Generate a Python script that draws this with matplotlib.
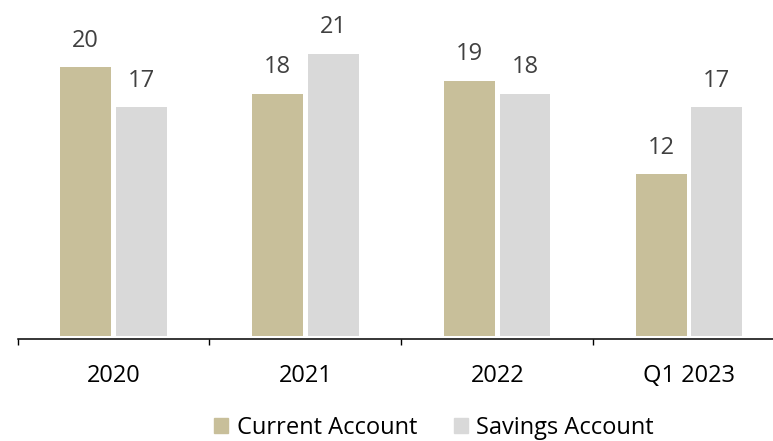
import matplotlib
matplotlib.use("Agg")
import matplotlib.pyplot as plt
from matplotlib.patches import Patch
import numpy as np

plt.rcParams.update({"font.family": ["Open Sans", "DejaVu Sans"]})

TAN, LGREY, TXT = "#C8BF9A", "#D9D9D9", "#404040"

categories = ["2020", "2021", "2022", "Q1 2023"]
current = [20, 18, 19, 12]
savings = [17, 21, 18, 17]

W, H = 773, 441
fig = plt.figure(figsize=(W / 100, H / 100), dpi=100)
# axes runs off the right edge, like the reference
ax = fig.add_axes([17.5 / W, (H - 339) / H, (785 - 17.5) / W, 339 / H])

x = np.arange(len(categories))
bw, off = 0.265, 0.145
b1 = ax.bar(x - off, current, bw, color=TAN, zorder=3)
b2 = ax.bar(x + off, savings, bw, color=LGREY, zorder=3)
for bars in (b1, b2):
    for r in bars:
        ax.annotate(f"{r.get_height():.0f}", (r.get_x() + r.get_width() / 2, r.get_height()),
                    xytext=(0, 14.8), textcoords="offset points", ha="center", va="baseline",
                    fontsize=17, color=TXT)

ax.set_xlim(-0.5, 3.5)
ax.set_ylim(-0.26, 25.0)
for s in ("top", "right", "left"):
    ax.spines[s].set_visible(False)
ax.spines["bottom"].set_linewidth(1.1)
ax.set_yticks([])
ax.set_xticks(x - 0.5)
ax.set_xticklabels([])
ax.tick_params(axis="x", which="major", length=4.5, width=1.0, direction="out")
ax.set_xticks(x, minor=True)
ax.set_xticklabels(categories, minor=True, fontsize=17, color="#000000")
ax.tick_params(axis="x", which="minor", length=0, pad=18)

handles = [Patch(color=TAN, label="Current Account"), Patch(color=LGREY, label="Savings Account")]
fig.legend(handles=handles, loc="center", bbox_to_anchor=(434 / W, 1 - 428 / H), ncol=2,
           frameon=False, fontsize=17, handlelength=0.6, handleheight=0.6,
           handletextpad=0.35, columnspacing=1.55, labelcolor="#000000",
           borderpad=0, borderaxespad=0)

fig.savefig("out.png", dpi=100)
